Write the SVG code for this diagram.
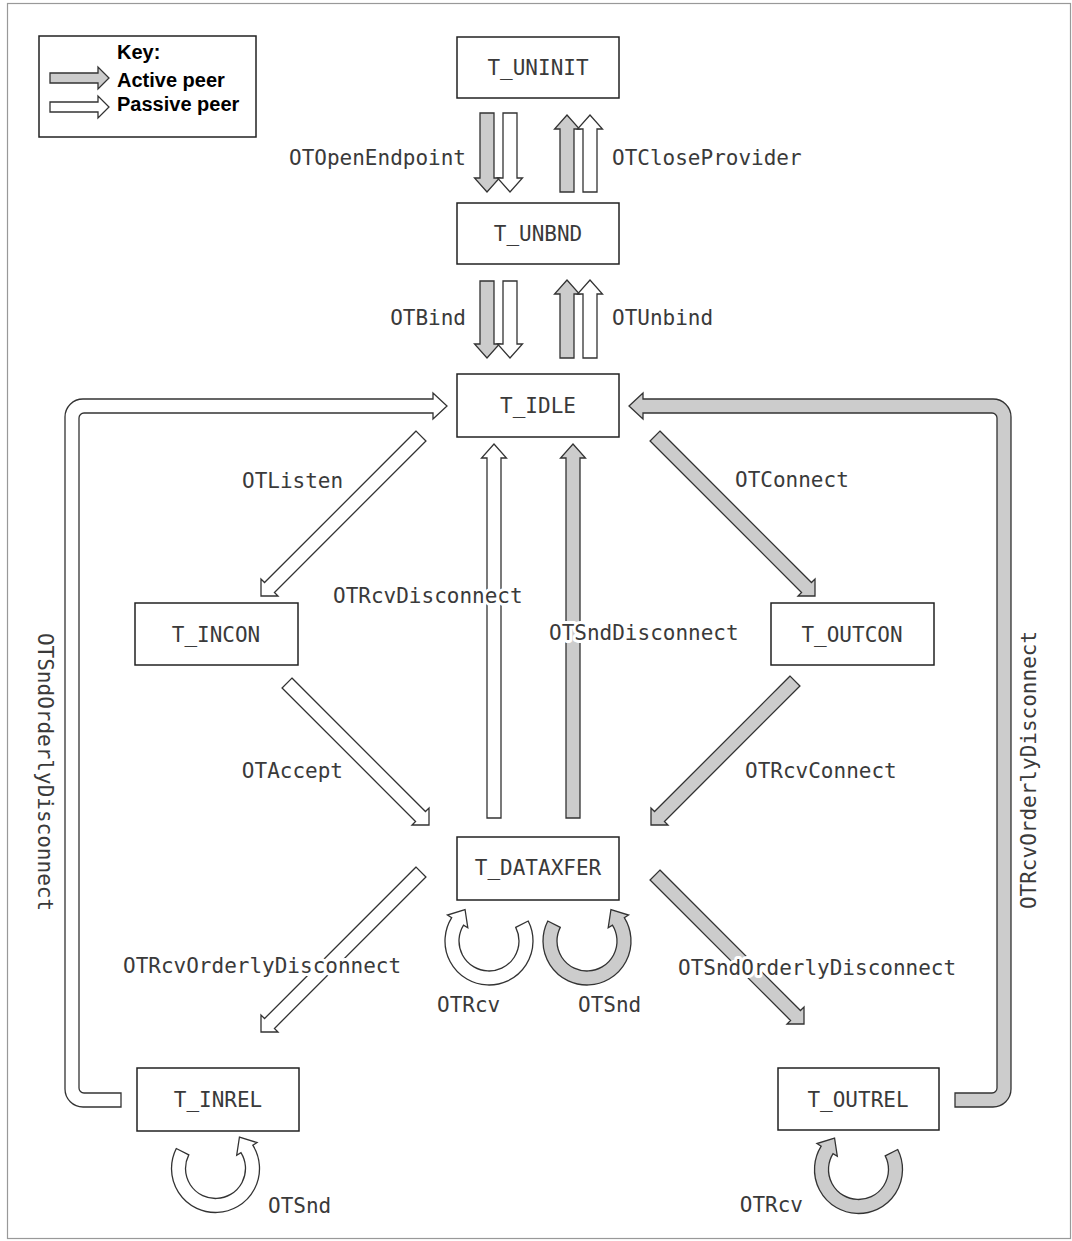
<svg xmlns="http://www.w3.org/2000/svg" width="1072" height="1241" viewBox="0 0 1072 1241">
<style>
.box{fill:#fff;stroke:#222;stroke-width:1.5}
.act{fill:#cccccc;stroke:#333;stroke-width:1.3;stroke-linejoin:miter}
.pas{fill:#fff;stroke:#333;stroke-width:1.3;stroke-linejoin:miter}
.lbl{font-family:"DejaVu Sans Mono",monospace;font-size:21px;fill:#3a3a3a}
.halo{stroke:#fff;stroke-width:6;paint-order:stroke;stroke-linejoin:round}
.nl{font-family:"DejaVu Sans Mono",monospace;font-size:21px;fill:#3a3a3a;text-anchor:middle}
.key{font-family:"Liberation Sans",Arial,sans-serif;font-weight:bold;font-size:20px;fill:#000}
</style>
<defs>
<path id="loopA" d="M 39.20 -19.98 A 44 44 0 1 1 -37.31 -23.32 L -41.55 -25.97 L -23.96 -31.48 L -21.20 -13.25 L -25.44 -15.90 A 30 30 0 1 0 26.73 -13.62 Z"/>
<path id="loopB" d="M -39.20 -19.98 A 44 44 0 1 0 37.31 -23.32 L 41.55 -25.97 L 23.96 -31.48 L 21.20 -13.25 L 25.44 -15.90 A 30 30 0 1 1 -26.73 -13.62 Z"/>
</defs>
<rect x="0" y="0" width="1072" height="1241" fill="#fff"/>
<rect x="7.5" y="3.5" width="1063" height="1235" fill="none" stroke="#999" stroke-width="1.2"/>

<g id="key">
<rect x="39" y="36" width="217" height="101" fill="#fff" stroke="#222" stroke-width="1.5"/>
<polygon class="act" points="50,73 98,73 98,67 109,78 98,89 98,83 50,83"/>
<polygon class="pas" points="50,102 98,102 98,96 109,107 98,118 98,112 50,112"/>
<text class="key" x="117" y="59">Key:</text>
<text class="key" x="117" y="87">Active peer</text>
<text class="key" x="117" y="111">Passive peer</text>
</g>

<g id="connectors">
<polygon class="act" points="480,113 480,178 474.5,178 487,192 499.5,178 494,178 494,113"/>
<polygon class="pas" points="503,113 503,178 497.5,178 510,192 522.5,178 517,178 517,113"/>
<polygon class="act" points="560,192 560,129 554.5,129 567,115 579.5,129 574,129 574,192"/>
<polygon class="pas" points="583,192 583,129 577.5,129 590,115 602.5,129 597,129 597,192"/>
<polygon class="act" points="480,281 480,344 474.5,344 487,358 499.5,344 494,344 494,281"/>
<polygon class="pas" points="503,281 503,344 497.5,344 510,358 522.5,344 517,344 517,281"/>
<polygon class="act" points="560,358 560,294 554.5,294 567,280 579.5,294 574,294 574,358"/>
<polygon class="pas" points="583,358 583,294 577.5,294 590,280 602.5,294 597,294 597,358"/>
<path class="pas" d="M 121 1107 L 83 1107 A 18 18 0 0 1 65 1089 L 65 417 A 18 18 0 0 1 83 399 L 433 399 L 433 393 L 447 406 L 433 419 L 433 413 L 84 413 A 5 5 0 0 0 79 418 L 79 1088 A 5 5 0 0 0 84 1093 L 121 1093 Z"/>
<path class="act" d="M 955 1107 L 993 1107 A 18 18 0 0 0 1011 1089 L 1011 417 A 18 18 0 0 0 993 399 L 643 399 L 643 393 L 629 406 L 643 419 L 643 413 L 992 413 A 5 5 0 0 1 997 418 L 997 1088 A 5 5 0 0 1 992 1093 L 955 1093 Z"/>
<polygon class="pas" points="416.05,431.05 264.54,582.56 261,579 261,596 278,596 274.44,592.46 425.95,440.95"/>
<polygon class="act" points="659.95,431.05 811.46,582.56 815,579 815,596 798,596 801.56,592.46 650.05,440.95"/>
<polygon class="pas" points="291.95,678.05 425.46,811.56 429,808 429,825 412,825 415.56,821.46 282.05,687.95"/>
<polygon class="act" points="790.05,676.05 654.54,811.56 651,808 651,825 668,825 664.44,821.46 799.95,685.95"/>
<polygon class="pas" points="416.05,867.05 264.54,1018.56 261,1015 261,1032 278,1032 274.44,1028.46 425.95,876.95"/>
<polygon class="act" points="659.95,870.05 800.46,1010.56 804,1007 804,1024 787,1024 790.56,1020.46 650.05,879.95"/>
<polygon class="pas" points="487,818 487,458 481.5,458 494,444 506.5,458 501,458 501,818"/>
<polygon class="act" points="566,818 566,458 560.5,458 573,444 585.5,458 580,458 580,818"/>
<use href="#loopA" class="pas" transform="translate(489,941)"/>
<use href="#loopB" class="act" transform="translate(587,941)"/>
<use href="#loopB" class="pas" transform="translate(215.5,1168.5)"/>
<use href="#loopA" class="act" transform="translate(858.5,1169.5)"/>
</g>

<g id="labels">
<text class="lbl" x="466" y="165" text-anchor="end">OTOpenEndpoint</text>
<text class="lbl" x="612" y="165">OTCloseProvider</text>
<text class="lbl" x="466" y="325" text-anchor="end">OTBind</text>
<text class="lbl" x="612" y="325">OTUnbind</text>
<text class="lbl" x="242" y="488">OTListen</text>
<text class="lbl" x="735" y="487">OTConnect</text>
<text class="lbl halo" x="333" y="603">OTRcvDisconnect</text>
<text class="lbl halo" x="549" y="640">OTSndDisconnect</text>
<text class="lbl" x="343" y="778" text-anchor="end">OTAccept</text>
<text class="lbl" x="745" y="778">OTRcvConnect</text>
<text class="lbl halo" x="123" y="973">OTRcvOrderlyDisconnect</text>
<text class="lbl halo" x="678" y="975">OTSndOrderlyDisconnect</text>
<text class="lbl" x="437" y="1012">OTRcv</text>
<text class="lbl" x="578" y="1012">OTSnd</text>
<text class="lbl" x="268" y="1213">OTSnd</text>
<text class="lbl" x="803" y="1212" text-anchor="end">OTRcv</text>
<text class="nl" transform="translate(38,772) rotate(90)">OTSndOrderlyDisconnect</text>
<text class="nl" transform="translate(1036,770) rotate(-90)">OTRcvOrderlyDisconnect</text>
</g>

<g id="T_UNINIT"><rect class="box" x="457" y="37" width="162" height="61"/><text class="nl" x="538" y="75">T_UNINIT</text></g>
<g id="T_UNBND"><rect class="box" x="457" y="203" width="162" height="61"/><text class="nl" x="538" y="241">T_UNBND</text></g>
<g id="T_IDLE"><rect class="box" x="457" y="374" width="162" height="63"/><text class="nl" x="538" y="413">T_IDLE</text></g>
<g id="T_INCON"><rect class="box" x="135" y="603" width="163" height="62"/><text class="nl" x="216" y="642">T_INCON</text></g>
<g id="T_OUTCON"><rect class="box" x="771" y="603" width="163" height="62"/><text class="nl" x="852" y="642">T_OUTCON</text></g>
<g id="T_DATAXFER"><rect class="box" x="457" y="837" width="162" height="63"/><text class="nl" x="538" y="875">T_DATAXFER</text></g>
<g id="T_INREL"><rect class="box" x="137" y="1068" width="162" height="63"/><text class="nl" x="218" y="1107">T_INREL</text></g>
<g id="T_OUTREL"><rect class="box" x="778" y="1068" width="161" height="62"/><text class="nl" x="858" y="1107">T_OUTREL</text></g>
</svg>
